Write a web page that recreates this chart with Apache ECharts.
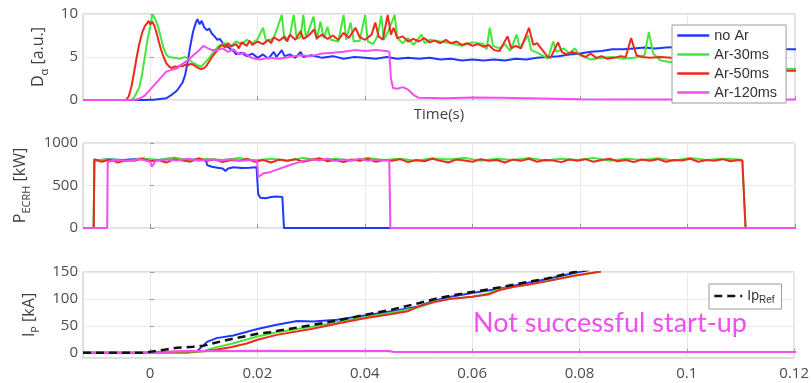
<!DOCTYPE html>
<html><head><meta charset="utf-8">
<script src="https://cdn.jsdelivr.net/npm/echarts@6/dist/echarts.min.js"></script>
<style>html,body{margin:0;padding:0;background:#fff}#c{width:812px;height:383px}</style>
</head><body><div id="c"></div>
<script>
// ---- data (time in ms) ----
const seriesNames = ['no Ar', 'Ar-30ms', 'Ar-50ms', 'Ar-120ms'];
const xTicks = [0, 0.02, 0.04, 0.06, 0.08, 0.1, 0.12];
const daTicks = [0, 5, 10];
const pTicks = [0, 500, 1000];
const ipTicks = [0, 50, 100, 150];

// D_alpha [a.u.]
const da_noAr = [[-12.5,0],[-1,0],[1,0.05],[3,0.2],[4,0.6],[5,1.1],[6,2.0],[6.5,2.9],[7,4.5],[7.5,6.4],[8,8.0],[8.5,9.0],[8.8,9.4],[9.2,8.8],[9.6,9.2],[10,8.5],[10.6,8.1],[11,8.3],[11.5,7.7],[12,7.4],[12.5,7.0],[13,7.1],[13.5,6.6],[14,6.4],[15,5.9],[15.5,5.7],[16,5.3],[17,5.5],[18,5.1],[19,5.4],[20,4.9],[21,5.3],[22,4.8],[23,5.6],[23.5,5.0],[24.5,5.8],[25,5.1],[26,5.3],[27,4.9],[28,5.6],[28.5,5.0],[30,5.2],[32,4.9],[34,5.1],[36,4.8],[38,5.0],[40,4.9],[42,4.8],[44,5.0],[46,4.8],[48,4.9],[50,4.8],[52,4.9],[54,4.7],[56,4.8],[58,4.6],[60,4.7],[62,4.6],[64,4.7],[66,4.6],[68,4.8],[70,4.7],[72,4.9],[74,5.0],[76,5.1],[78,5.3],[80,5.4],[82,5.6],[84,5.7],[86,5.9],[88,5.9],[90,6.0],[92,6.1],[94,6.0],[96,6.1],[100,6.2],[105,6.1],[110,6.2],[115,6.0],[118,5.9],[120.5,5.9]];
const da_ar30 = [[-12.5,0],[-3.5,0],[-3,0.3],[-2,1.5],[-1.5,3],[-1,5],[-0.5,7],[0,8.5],[0.4,9.9],[0.8,9.6],[1.5,8.5],[2,7.2],[2.5,6.0],[3,5.3],[3.5,5.0],[4.5,4.9],[5.5,4.8],[6.5,5.0],[7,4.8],[8,4.3],[9,4.0],[9.5,3.9],[10,4.2],[11,4.9],[12,5.8],[13,6.4],[14,6.6],[15,6.3],[16,6.8],[17,6.5],[18,7.0],[19,6.6],[20,7.1],[21,8.4],[21.6,6.8],[23,7.2],[24.5,9.9],[25,7.0],[26,7.4],[26.7,9.9],[27.3,7.1],[28,7.3],[28.5,9.9],[29,7.2],[30.4,9.7],[31,7.0],[31.7,9.1],[32.3,7.2],[33,8.5],[33.6,7.0],[35,6.8],[36,9.9],[36.5,7.0],[37.3,9.0],[37.9,6.8],[39,6.9],[40,9.9],[40.5,6.8],[41.5,6.5],[42.3,7.4],[43,9.8],[43.5,7.0],[44.3,8.0],[45.5,9.9],[46,7.2],[47,6.6],[48,7.2],[49,6.4],[50.5,7.6],[51.1,6.6],[52,7.0],[54,6.8],[56,6.6],[58,6.3],[60,6.7],[62,6.5],[62.6,5.9],[63.2,8.4],[63.8,6.3],[65,6.0],[66,6.5],[67,5.7],[68.2,7.6],[68.8,6.0],[70.3,7.5],[70.9,5.8],[72,5.5],[73,5.2],[74,4.8],[75,6.8],[75.6,5.6],[77,6.0],[78,5.4],[79,6.0],[80,5.2],[82,4.7],[84,4.9],[86,5.0],[88,4.8],[90,4.9],[92,5.2],[92.8,7.9],[93.6,5.4],[95,4.6],[97,4.4],[100,4.3],[105,4.0],[110,3.8],[115,3.7],[120.5,3.6]];
const da_ar50 = [[-12.5,0],[-4.5,0],[-4,0.4],[-3.5,1.5],[-3,3.2],[-2.5,5.0],[-2,6.6],[-1.5,7.8],[-1,8.6],[-0.6,8.9],[-0.3,9.2],[0,8.8],[0.4,9.1],[0.8,8.6],[1.2,7.8],[1.6,6.8],[2,5.9],[2.5,5.0],[3,4.3],[3.5,3.9],[4,3.7],[4.5,3.9],[5,3.8],[5.5,4.0],[6,3.9],[6.5,4.1],[7,4.0],[7.5,4.2],[8,4.1],[8.5,3.9],[9,3.7],[9.5,3.6],[10,3.7],[10.5,4.0],[11,4.5],[11.5,5.0],[12,5.4],[12.5,5.8],[13,6.2],[13.5,6.4],[14,6.1],[14.5,6.6],[15,6.2],[16,6.5],[16.5,6.0],[17,6.7],[18,6.3],[18.5,6.9],[19,6.4],[20,6.8],[21,6.5],[22,7.0],[22.5,6.6],[23,7.3],[24,6.9],[25,7.4],[25.5,6.8],[26,7.6],[27,7.0],[28,8.0],[28.5,7.1],[29.5,7.5],[30.5,8.2],[31,7.2],[32,7.6],[33,7.1],[34,7.5],[35,7.0],[36,7.8],[37,7.2],[38.2,8.4],[39,7.3],[40,7.0],[41.2,7.6],[41.9,9.0],[42.5,7.4],[43.3,7.0],[44.2,9.9],[44.8,7.6],[45.3,8.4],[46,7.2],[47,7.4],[48,6.8],[49,7.1],[50,6.8],[51,7.2],[52,6.7],[53,6.9],[54,6.6],[55,7.0],[56,6.6],[57,6.8],[58,6.4],[59,6.6],[60,6.3],[61,6.5],[62,6.2],[63,6.4],[64,5.8],[65,5.7],[66.5,7.4],[67.2,6.0],[68,6.3],[69,6.0],[70.5,8.4],[71.3,6.4],[72,6.6],[73,5.8],[74,5.0],[74.5,4.9],[75.9,6.7],[76.6,5.6],[77.5,5.3],[78.5,5.6],[80,5.3],[81,5.0],[82,5.4],[83,4.9],[84,5.1],[85,4.8],[86.3,4.9],[87.5,5.1],[88.5,5.0],[89.5,7.2],[90.5,5.2],[91.5,5.0],[93,4.9],[95,5.0],[96.9,4.9],[100,4.5],[105,4.0],[110,3.7],[115,3.5],[118,3.4],[120.5,3.4]];
const da_ar120 = [[-12.5,0],[-3,0],[-2,0.15],[-1,0.5],[0,1.2],[1,1.9],[2,2.6],[3,3.3],[4,3.5],[5,3.7],[6,4.2],[7,4.6],[8,5.2],[9,5.7],[9.9,6.3],[10.5,6.1],[11.5,5.8],[12.5,5.8],[13.5,6.0],[14.5,5.6],[15.5,5.9],[16.5,5.3],[17.5,5.5],[18.5,5.0],[19.5,4.8],[20.5,4.7],[22,4.9],[24,4.8],[26,5.0],[28,5.2],[30,5.1],[32,5.4],[34,5.5],[36,5.6],[38,5.8],[40,5.7],[42,5.8],[44,5.7],[44.5,5.6],[44.8,2.5],[45.2,1.4],[46,1.3],[47,1.5],[48,1.2],[49,0.6],[50,0.25],[55,0.2],[60,0.3],[65,0.25],[70,0.2],[80,0.1],[90,0.05],[120.5,0.05]];

// P_ECRH [kW]
const p_noAr = [[-12.5,0],[-10.5,0],[-10.4,790],[-8,810],[-5,800],[-2,815],[1,795],[4,820],[7,800],[9,810],[10.4,790],[10.6,740],[11.5,720],[12.5,710],[13.5,700],[14,670],[14.5,700],[15.5,715],[17,705],[18.5,710],[19.8,715],[20.1,400],[20.5,355],[21.5,350],[22.5,365],[23.5,370],[24.6,365],[24.9,0],[120.5,0]];
const p_ar30 = [[-12.5,0],[-10.5,0],[-10.4,790],[-7.5,810],[-4.5,785],[-1.5,820],[1.5,800],[4.5,830],[7.5,790],[10.5,815],[13.5,800],[16.5,825],[19.5,795],[22.5,815],[25.5,790],[28.5,825],[31.5,800],[34.5,815],[37.5,790],[40.5,825],[43.5,800],[46.5,815],[49.5,790],[52.5,820],[55.5,805],[58.5,825],[61.5,790],[64.5,815],[67.5,800],[70.5,825],[73.5,795],[76.5,815],[79.5,800],[82.5,825],[85.5,790],[88.5,815],[91.5,800],[94.5,820],[97.5,795],[100.5,825],[103.5,800],[106.5,815],[109.5,805],[110.2,800],[110.8,0],[120.5,0]];
const p_ar50 = [[-12.5,0],[-10.5,0],[-10.4,810],[-9,780],[-7.5,805],[-6,770],[-4.5,800],[-3,790],[-1.5,815],[0,785],[1.5,800],[3,770],[4.5,810],[6,795],[7.5,780],[9,820],[10.5,790],[12,805],[13.5,775],[15,800],[16.5,790],[18,815],[19.5,780],[21,800],[22.5,770],[24,805],[25.5,790],[27,810],[28.5,780],[30,800],[31.5,820],[33,785],[34.5,800],[36,775],[37.5,805],[39,790],[40.5,815],[42,780],[43.5,800],[45,790],[46.5,810],[48,775],[49.5,800],[51,785],[52.5,815],[54,790],[55.5,770],[57,805],[58.5,795],[60,780],[61.5,810],[63,790],[64.5,800],[66,770],[67.5,805],[69,790],[70.5,815],[72,780],[73.5,800],[75,795],[76.5,775],[78,805],[79.5,790],[81,810],[82.5,780],[84,800],[85.5,815],[87,785],[88.5,800],[90,775],[91.5,805],[93,790],[94.5,810],[96,780],[97.5,800],[99,795],[100.5,815],[102,780],[103.5,800],[105,790],[106.5,810],[108,785],[109.5,800],[110.2,790],[110.8,0],[120.5,0]];
const p_ar120 = [[-12.5,0],[-8,0],[-7.9,780],[-6,800],[-4,790],[-2,810],[0,780],[0.3,720],[1,790],[3,805],[5,795],[7,815],[9,790],[11,805],[13,795],[15,810],[17,790],[19,800],[19.9,790],[20.1,600],[21,640],[22.4,660],[23.7,690],[25.5,730],[27,760],[28.5,790],[30,810],[31.5,795],[33,815],[34.5,790],[36,805],[37.5,795],[39,815],[40.5,790],[42,805],[43.5,795],[44.5,800],[44.7,0],[120.5,0]];

// I_P [kA]
const ip_noAr = [[-12.5,0],[7,0],[8.7,2],[10.6,20],[12.4,27],[15.5,32],[20,44],[23.6,52],[27.4,59],[30.4,58],[34.8,61],[40,69],[45,77],[50,86],[53,97],[56,104],[60,111],[65,119],[70,129],[74,137],[79,148],[83,156]];
const ip_ar30 = [[-12.5,0],[7,0],[8,0.5],[10,3],[12,9],[15,16],[20,30],[23.6,38],[30,48],[35,57],[40,66],[45,74],[50,84],[53,95],[56,100],[60,104],[63,110],[65,118],[70,126],[74,133],[79,143],[84,151]];
const ip_ar50 = [[-12.5,0],[-1,0],[2,1.5],[8,2],[10,2.5],[12,5],[15,10],[18,17],[20,24],[23.6,33],[30,44],[35,54],[40,64],[45,72],[48,77],[50,86],[53,94],[56,100],[60,104],[63,108],[65,116],[68,123],[70,126],[74,133],[79,143],[84,151]];
const ip_ar120 = [[-12.5,0],[0,0],[3,1],[6,3],[10,3],[20,3.5],[30,3],[40,3],[44.5,3],[45.5,1],[120.5,1]];
const ip_ref = [[-12.5,0],[-1,0],[1,3],[3,6],[5,9],[8,11],[10,13],[12,18],[15,25],[20,35],[22.4,38],[24,41],[30,51],[35,60],[40,70],[45,80],[50,92],[53.5,101],[56,106],[60,113],[65,121],[70,131],[74,138],[79,150],[82,155]];

// ---- build ----
const colors = ['#2236ff', '#44e63a', '#ec2a1e', '#f24ef0'];
const toSec = a => a.map(p => [p[0] / 1000, p[1]]);
const panels = [[da_noAr, da_ar30, da_ar50, da_ar120], [p_noAr, p_ar30, p_ar50, p_ar120], [ip_noAr, ip_ar30, ip_ar50, ip_ar120]];
const FONT = 'Open Sans';
const tickColor = '#4d4d4d';

const grids = [
  {left: 83, top: 14, width: 712, height: 86},
  {left: 83, top: 143, width: 712, height: 85},
  {left: 83, top: 272, width: 712, height: 86}
].map(g => Object.assign(g, {show: true, borderColor: '#bdbdbd', borderWidth: 1, backgroundColor: '#fff'}));

function xAx(i) {
  return {
    type: 'value', gridIndex: i, min: -0.0125, max: 0.12,
    axisLine: {show: false},
    axisTick: {show: true, inside: true, length: 4, customValues: xTicks, lineStyle: {color: '#999'}},
    splitLine: {show: true, lineStyle: {color: '#e9e9e9', width: 1}},
    axisLabel: {show: i === 2, customValues: xTicks, margin: 8, color: tickColor, fontSize: 15, fontFamily: FONT,
      formatter: v => String(+v.toFixed(3))},
    name: i === 0 ? 'Time(s)' : '', nameLocation: 'middle', nameGap: 7,
    nameTextStyle: {fontSize: 15, color: '#404040', fontFamily: FONT, verticalAlign: 'top'}
  };
}
const richName = {
  m: {fontSize: 16, color: '#404040', fontFamily: FONT, lineHeight: 24},
  s: {fontSize: 11, color: '#404040', fontFamily: FONT, lineHeight: 12, verticalAlign: 'bottom'}
};
function yAx(i, min, max, ticks, name, gap) {
  return {
    type: 'value', gridIndex: i, min: min, max: max,
    axisLine: {show: false},
    axisTick: {show: true, inside: true, length: 4, customValues: ticks, lineStyle: {color: '#999'}},
    splitLine: {show: true, lineStyle: {color: '#e9e9e9', width: 1}},
    axisLabel: {customValues: ticks, margin: 5, color: tickColor, fontSize: 15, fontFamily: FONT,
      formatter: v => String(v)},
    name: name, nameLocation: 'middle', nameGap: gap,
    nameTextStyle: {rich: richName}
  };
}

const series = [];
panels.forEach((arrs, pi) => {
  arrs.forEach((arr, si) => {
    series.push({
      type: 'line', name: seriesNames[si], xAxisIndex: pi, yAxisIndex: pi,
      data: toSec(arr), showSymbol: false, symbol: 'none', animation: false,
      color: colors[si], lineStyle: {width: 2, color: colors[si]}, z: 2 + si
    });
  });
});
series.push({
  type: 'line', name: 'IpRef', xAxisIndex: 2, yAxisIndex: 2, data: toSec(ip_ref),
  showSymbol: false, symbol: 'none', animation: false, color: '#111', z: 10,
  lineStyle: {width: 2.5, color: '#111', type: [8, 5]}
});

const chart = echarts.init(document.getElementById('c'), null, {renderer: 'canvas'});
chart.setOption({
  backgroundColor: '#fff',
  animation: false,
  grid: grids,
  xAxis: [xAx(0), xAx(1), xAx(2)],
  yAxis: [
    yAx(0, 0, 10, daTicks, '{m|D}{s|α}{m| [a.u.]}', 31),
    yAx(1, 0, 1000, pTicks, '{m|P}{s|ECRH}{m| [kW]}', 50),
    yAx(2, -10, 150, ipTicks, '{m|I}{s|P}{m| [kA]}', 40)
  ],
  legend: [
    {data: seriesNames, orient: 'vertical', left: 672, top: 25, itemWidth: 32, itemHeight: 14, itemGap: 4,
     padding: [3, 9, 3, 4], borderColor: '#9a9a9a', borderWidth: 1, backgroundColor: '#fff', selectedMode: false,
     itemStyle: {opacity: 0, borderWidth: 0}, lineStyle: {width: 2.5},
     textStyle: {fontSize: 14.5, color: '#333', fontFamily: 'Liberation Sans'}, z: 20},
    {data: ['IpRef'], left: 709, top: 284, itemWidth: 28, itemHeight: 14, padding: [5, 7, 4, 4],
     borderColor: '#9a9a9a', borderWidth: 1, backgroundColor: '#fff', selectedMode: false,
     itemStyle: {opacity: 0, borderWidth: 0}, lineStyle: {width: 2.5},
     formatter: () => '{n|Ip}{s|Ref}',
     textStyle: {fontSize: 14, color: '#333', fontFamily: 'Liberation Sans',
       rich: {n: {fontSize: 14, color: '#333', fontFamily: 'Liberation Sans', lineHeight: 18},
              s: {fontSize: 10, color: '#333', fontFamily: 'Liberation Sans', lineHeight: 10, verticalAlign: 'bottom'}}}, z: 20}
  ],
  graphic: [{
    type: 'text', left: 473, top: 310, z: 30,
    style: {text: 'Not successful start-up', font: '27px Lato', fill: '#f04ef0'}
  }],
  series: series
});
</script></body></html>
